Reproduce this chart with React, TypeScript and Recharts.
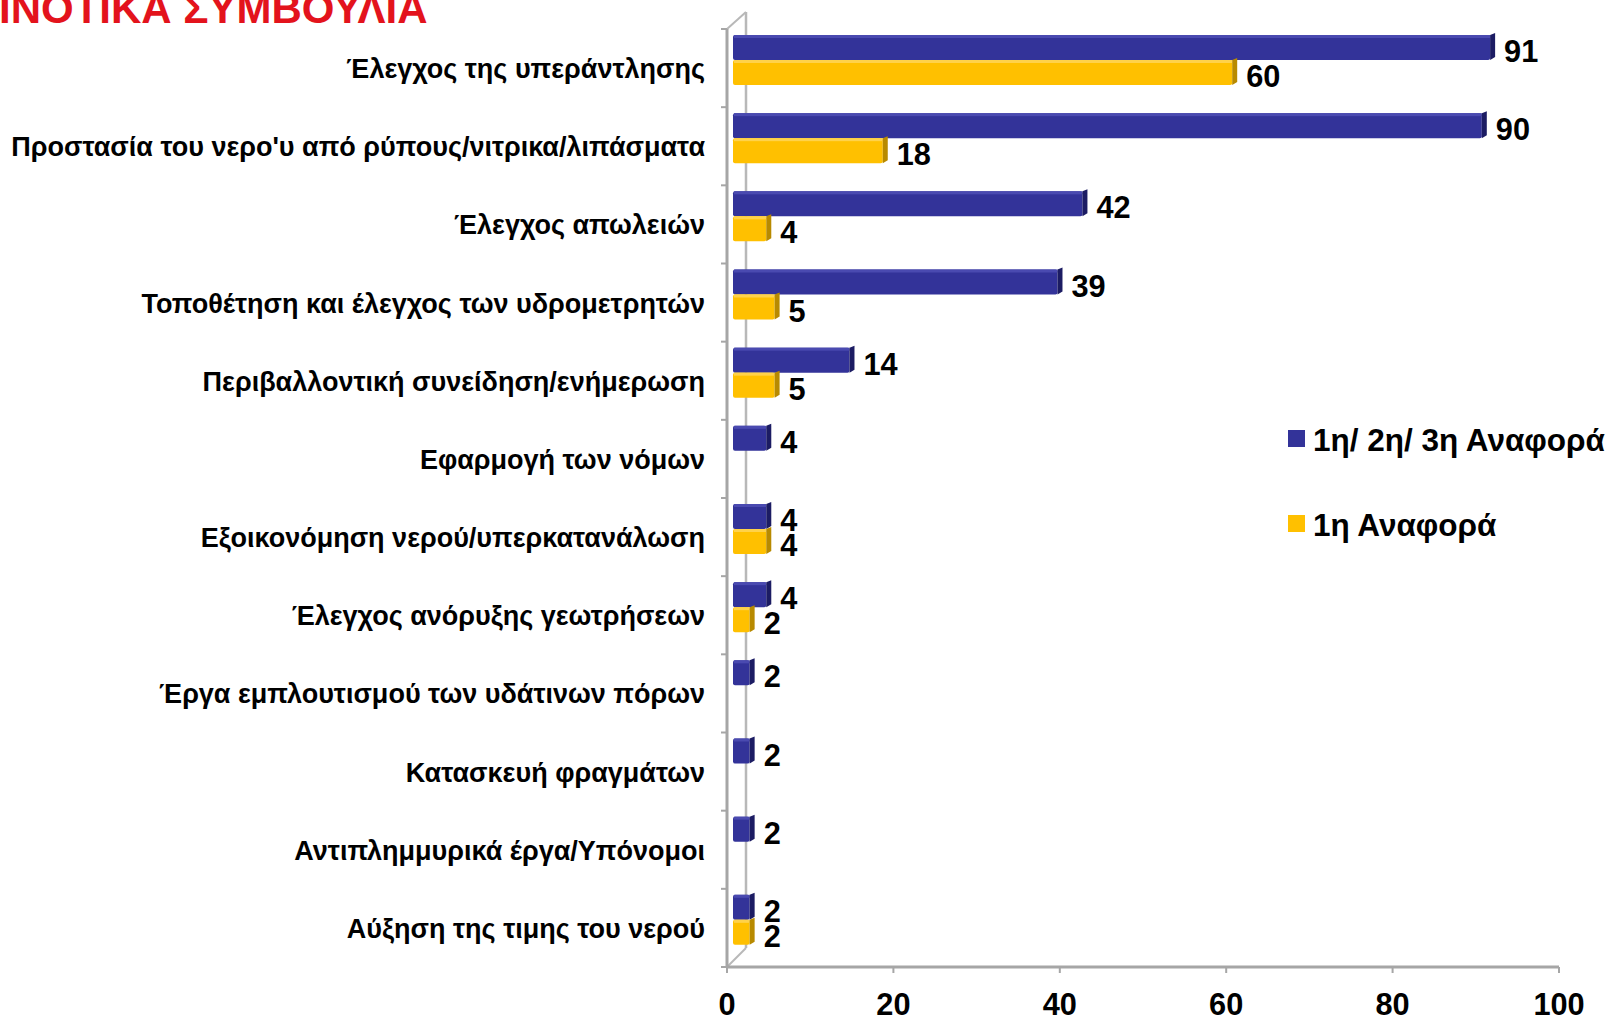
import React from 'react';
import { BarChart, Bar, XAxis, YAxis, LabelList, Customized } from 'recharts';

// ---------- data ----------
const categories = [
  'Έλεγχος της υπεράντλησης',
  "Προστασία του νερο'υ από ρύπους/νιτρικα/λιπάσματα",
  'Έλεγχος απωλειών',
  'Τοποθέτηση και έλεγχος των υδρομετρητών',
  'Περιβαλλοντική συνείδηση/ενήμερωση',
  'Εφαρμογή των νόμων',
  'Εξοικονόμηση νερού/υπερκατανάλωση',
  'Έλεγχος ανόρυξης γεωτρήσεων',
  'Έργα εμπλουτισμού των υδάτινων πόρων',
  'Κατασκευή φραγμάτων',
  'Αντιπλημμυρικά έργα/Υπόνομοι',
  'Αύξηση της τιμης του  νερού',
];
const seriesNames = ['1η/ 2η/ 3η Αναφορά', '1η Αναφορά'];
const allReports = [91, 90, 42, 39, 14, 4, 4, 4, 2, 2, 2, 2];
const firstReport: (number | null)[] = [60, 18, 4, 5, 5, null, 4, 2, null, null, null, 2];
const xTicks = [0, 20, 40, 60, 80, 100];
const titleText = 'ΙΝΟΤΙΚΑ ΣΥΜΒΟΥΛΙΑ';

const data = categories.map((name, i) => ({
  name,
  all: allReports[i],
  first: firstReport[i],
}));

// ---------- layout / style ----------
const W = 1613;
const H = 1018;
const PLOT_TOP = 29;
const Y_AXIS_W = 727;
const X_AXIS_H = 51;
const RIGHT = 54;
const PLOT_LEFT = Y_AXIS_W;
const PLOT_BOTTOM = H - X_AXIS_H;
const BAND = (PLOT_BOTTOM - PLOT_TOP) / categories.length;
const SHIFT_X = 6;
const SHIFT_Y = -8;
const CAP = 5;
const DEPTH = 19;

const BLUE = '#333399';
const BLUE_DARK = '#1c1c63';
const BLUE_LIGHT = '#4a4ab0';
const YELLOW = '#ffc000';
const YELLOW_DARK = '#b88a00';
const YELLOW_LIGHT = '#ffd24a';
const AXIS = '#a6a6a6';
const FONT = '"Liberation Sans", Arial, sans-serif';

const make3DBar = (color: string, dark: string, light: string) => (props: any) => {
  const { x, y, width, height, value } = props;
  if (value == null || !width || width <= 0) return <g />;
  const x0 = x + SHIFT_X;
  const y0 = y + SHIFT_Y;
  const xe = x0 + width;
  return (
    <g>
      <rect x={x0} y={y0} width={width} height={height} fill={color} rx={2} />
      <rect x={x0 + 1} y={y0} width={Math.max(width - 1, 0)} height={3} fill={light} />
      <polygon
        points={`${xe},${y0} ${xe + CAP},${y0 - 2} ${xe + CAP},${y0 + height - 3} ${xe},${y0 + height}`}
        fill={dark}
      />
    </g>
  );
};

const ValueLabel = (props: any) => {
  const { x, y, width, height, value } = props;
  if (value == null) return null;
  const tx = x + width + SHIFT_X + CAP + 9;
  const cy = y + SHIFT_Y + height / 2 + 3;
  return (
    <text
      transform={`translate(${tx},${cy + 11.5}) scale(0.96,1)`}
      fontFamily={FONT}
      fontWeight="bold"
      fontSize={32}
      fill="#000"
    >
      {value}
    </text>
  );
};

const CatTick = (props: any) => {
  const { y, payload } = props;
  return (
    <text
      x={PLOT_LEFT - 22}
      y={y + 10}
      textAnchor="end"
      fontFamily={FONT}
      fontWeight="bold"
      fontSize={27}
      fill="#000"
    >
      {payload.value}
    </text>
  );
};

const XTick = (props: any) => {
  const { x, payload } = props;
  return (
    <text
      transform={`translate(${x},${PLOT_BOTTOM + 48}) scale(0.96,1)`}
      textAnchor="middle"
      fontFamily={FONT}
      fontWeight="bold"
      fontSize={32}
      fill="#000"
    >
      {payload.value}
    </text>
  );
};

const Decor = () => {
  const bx = PLOT_LEFT + DEPTH;
  const ticks = [];
  for (let i = 0; i <= categories.length; i++) {
    const yy = PLOT_TOP + i * BAND;
    ticks.push(<line key={i} x1={PLOT_LEFT - 6} x2={PLOT_LEFT} y1={yy} y2={yy} stroke={AXIS} strokeWidth={2} />);
  }
  return (
    <g>
      <line x1={bx} x2={bx} y1={PLOT_TOP - DEPTH + 2} y2={PLOT_BOTTOM - DEPTH} stroke="#b8b8b8" strokeWidth={2.5} />
      <line x1={PLOT_LEFT} x2={bx} y1={PLOT_TOP} y2={PLOT_TOP - DEPTH + 2} stroke="#b8b8b8" strokeWidth={2} />
      <line x1={PLOT_LEFT} x2={bx} y1={PLOT_BOTTOM} y2={PLOT_BOTTOM - DEPTH} stroke="#b8b8b8" strokeWidth={2} />
      {ticks}
      <text x={-1} y={23} fontFamily={FONT} fontWeight="bold" fontSize={42} fill="#e3131c">
        {titleText}
      </text>
      <rect x={1288} y={430} width={17} height={17} fill={BLUE} />
      <text x={1313} y={451} fontFamily={FONT} fontWeight="bold" fontSize={31.5} fill="#000">
        {seriesNames[0]}
      </text>
      <rect x={1288} y={515} width={17} height={17} fill={YELLOW} />
      <text x={1313} y={536} fontFamily={FONT} fontWeight="bold" fontSize={31.5} fill="#000">
        {seriesNames[1]}
      </text>
    </g>
  );
};

export default function App() {
  return (
    <div style={{ position: 'absolute', left: 0, top: 0, width: W, height: H, background: '#fff' }}>
      <BarChart
        width={W}
        height={H}
        data={data}
        layout="vertical"
        margin={{ top: PLOT_TOP, right: RIGHT, bottom: 0, left: 0 }}
        barGap={0}
      >
        <Customized component={<Decor />} />
        <XAxis
          type="number"
          domain={[0, 100]}
          ticks={xTicks}
          height={X_AXIS_H}
          axisLine={{ stroke: AXIS, strokeWidth: 3 }}
          tickLine={{ stroke: AXIS, strokeWidth: 2 }}
          tickSize={6}
          tick={<XTick />}
          interval={0}
        />
        <YAxis
          type="category"
          dataKey="name"
          width={Y_AXIS_W}
          axisLine={{ stroke: AXIS, strokeWidth: 3 }}
          tickLine={false}
          tick={<CatTick />}
          interval={0}
        />
        <Bar dataKey="all" name={seriesNames[0]} barSize={25} isAnimationActive={false}
          shape={make3DBar(BLUE, BLUE_DARK, BLUE_LIGHT)}>
          <LabelList dataKey="all" content={<ValueLabel />} />
        </Bar>
        <Bar dataKey="first" name={seriesNames[1]} barSize={25} isAnimationActive={false}
          shape={make3DBar(YELLOW, YELLOW_DARK, YELLOW_LIGHT)}>
          <LabelList dataKey="first" content={<ValueLabel />} />
        </Bar>
      </BarChart>
    </div>
  );
}
